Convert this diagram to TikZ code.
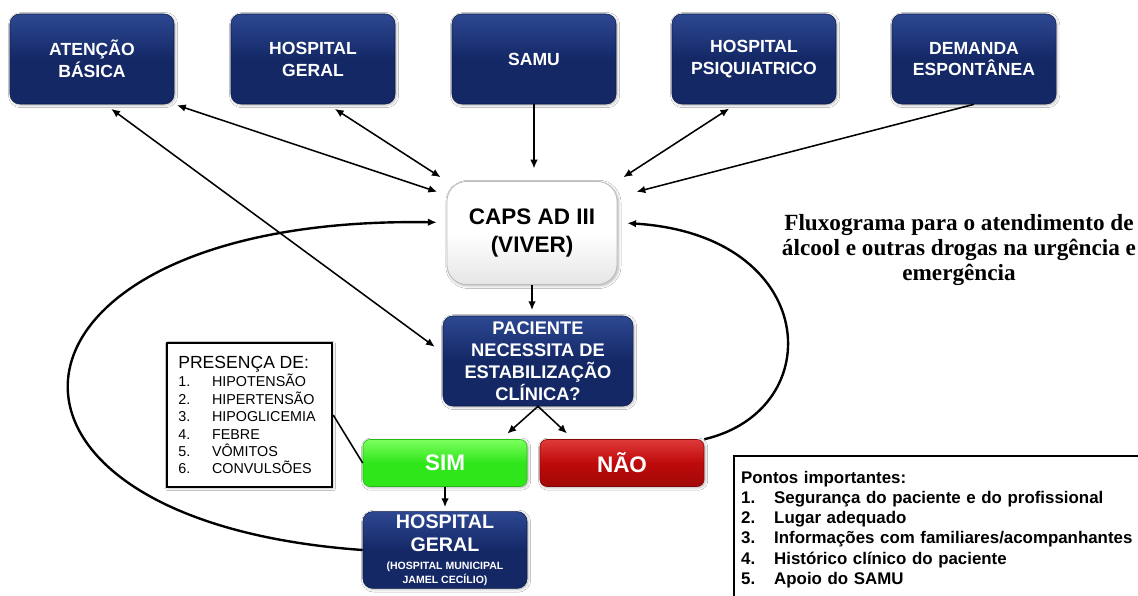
\documentclass[tikz,border=0pt]{standalone}
\usepackage{fontspec}
\setmainfont{Liberation Serif}
\setsansfont{Liberation Sans}
\usepackage{tikz}
\usetikzlibrary{arrows.meta,calc,shadows.blur}
\definecolor{navy}{HTML}{142866}
\definecolor{navytop}{HTML}{2D4892}
\definecolor{simgreen}{HTML}{2FE61A}
\definecolor{simtop}{HTML}{7CFF5E}
\definecolor{naored}{HTML}{BE0A0A}
\definecolor{naotop}{HTML}{E03A3A}
\definecolor{capsedge}{HTML}{BDBDBD}
\tikzset{
  >={Latex[length=2.2mm,width=1.9mm]},
  unit/.style={
    rounded corners=7pt,
    draw=navy!70!black,
    line width=0.4pt,
    top color=navytop, bottom color=navy, middle color=navy,
    blur shadow={shadow blur steps=4, shadow xshift=0.8pt, shadow yshift=-0.8pt, shadow opacity=30},
    text=white,
    align=center,
    font=\sffamily\bfseries\fontsize{12.5}{15.6}\selectfont,
    minimum width=4.1cm,
    minimum height=2.25cm,
    inner sep=2pt
  },
  hub/.style={
    rounded corners=14pt,
    draw=capsedge,
    line width=0.6pt,
    top color=white, bottom color=black!10, middle color=white,
    blur shadow={shadow blur steps=5, shadow xshift=1pt, shadow yshift=-1pt, shadow opacity=30},
    align=center,
    font=\sffamily\bfseries\fontsize{16}{20}\selectfont,
    minimum width=4.25cm,
    minimum height=2.575cm
  },
  answer/.style={
    rounded corners=5pt,
    text=white,
    font=\sffamily\bfseries\fontsize{16}{19}\selectfont,
    minimum width=4.1cm,
    minimum height=1.175cm,
    blur shadow={shadow blur steps=4, shadow xshift=0.8pt, shadow yshift=-0.8pt, shadow opacity=30}
  },
  yesbox/.style={answer, draw=simgreen!80!black, top color=simtop, bottom color=simgreen, middle color=simgreen},
  nobox/.style={answer, draw=naored!70!black, top color=naotop, bottom color=naored!85!black, middle color=naored},
  checklist/.style={
    draw=black,
    line width=1.8pt,
    fill=white,
    align=left,
    font=\sffamily\fontsize{10.2}{12.4}\selectfont,
    inner xsep=8pt,
    text width=3.56cm,
    minimum height=3.6cm,
    blur shadow={shadow blur steps=3, shadow xshift=0.8pt, shadow yshift=-0.8pt, shadow opacity=25}
  },
  pointsbox/.style={
    draw=black,
    line width=1.6pt,
    fill=white,
    align=left,
    anchor=north west,
    font=\sffamily\bfseries\fontsize{12}{14.4}\selectfont,
    inner xsep=5pt,
    inner ysep=10.5pt,
    text width=11cm,
    text depth=4cm
  },
  heading/.style={font=\rmfamily\bfseries\fontsize{16.5}{17.8}\selectfont, align=center},
  flowedge/.style={line width=1.1pt, ->},
  twoway/.style={line width=1.1pt, <->},
  loopedge/.style={line width=1.7pt, ->, shorten >=7pt}
}
\newcommand{\itemnum}[1]{\makebox[24pt][l]{#1}}
\newcommand{\pointnum}[1]{\makebox[23.5pt][l]{#1}}

\begin{document}
\begin{tikzpicture}[x=0.025cm,y=-0.025cm]
\useasboundingbox (0,0) rectangle (1138,595);
\fill[white] (0,0) rectangle (1138,595);

% entry points
\node[unit] (atencao) at (92,59) {ATENÇÃO\\BÁSICA};
\node[unit] (hgeral) at (313,59) {HOSPITAL\\GERAL};
\node[unit] (samu) at (534,59) {SAMU};
\node[unit] (psiq) at (754,59) {HOSPITAL\\PSIQUIATRICO};
\node[unit] (demanda) at (974,59) {DEMANDA\\ESPONTÂNEA};

% flow
\node[hub] (caps) at (532,233) {CAPS AD III\\(VIVER)};
\node[unit, minimum width=4.75cm, font=\sffamily\bfseries\fontsize{13}{15.6}\selectfont] (paciente) at (538,361)
  {PACIENTE\\NECESSITA DE\\ESTABILIZAÇÃO\\CLÍNICA?};
\node[yesbox] (sim) at (445,463) {SIM};
\node[nobox] (nao) at (622,463) {NÃO};
\node[unit, minimum height=1.9cm, font=\sffamily\bfseries\fontsize{14}{16.5}\selectfont] (hgbot) at (445,550)
  {HOSPITAL\\GERAL\\[-3.7pt]{\fontsize{7.5}{9}\selectfont(HOSPITAL MUNICIPAL}\\[-6.5pt]{\fontsize{7.5}{9}\selectfont JAMEL CECÍLIO)}};

% notes
\node[checklist] (presenca) at (249.5,415)
  {{\fontsize{12.5}{14}\selectfont PRESENÇA DE:}\\[0.8pt]
   \itemnum{1.}HIPOTENSÃO\\
   \itemnum{2.}HIPERTENSÃO\\
   \itemnum{3.}HIPOGLICEMIA\\
   \itemnum{4.}FEBRE\\
   \itemnum{5.}VÔMITOS\\
   \itemnum{6.}CONVULSÕES};
\node[pointsbox] (pontos) at (733,455)
  {Pontos importantes:\\
   \pointnum{1.}Segurança do paciente e do profissional\\
   \pointnum{2.}Lugar adequado\\
   \pointnum{3.}Informações com familiares/acompanhantes\\
   \pointnum{4.}Histórico clínico do paciente\\
   \pointnum{5.}Apoio do SAMU};
\node[heading] (titulo) at (959,250)
  {Fluxograma para o atendimento de\\álcool e outras drogas na urgência e\\emergência};

% connectors
\draw[twoway, shorten <=2pt, shorten >=7pt] (atencao.south east) -- (caps.156);
\draw[twoway, shorten <=5.5pt, shorten >=7pt] (atencao.-74) -- (paciente.175);
\draw[twoway, shorten <=6pt, shorten >=5pt] (hgeral.-72) -- (caps.north west);
\draw[twoway, shorten <=5.5pt, shorten >=5pt] (psiq.-112) -- (caps.north east);
\draw[flowedge, shorten >=14pt] (demanda.south) -- (caps.23);
\draw[flowedge, shorten >=9pt] (samu.south) -- (samu.south |- caps.north);
\draw[flowedge, shorten >=4pt] (caps.south) -- (caps.south |- paciente.north);
\foreach \a/\b/\s in {paciente.south/sim.23/6pt, paciente.south/nao.154/6pt, sim.south/hgbot.north/3pt}
  \draw[flowedge, shorten >=\s] (\a) -- (\b);
\draw[line width=1.1pt] (presenca.east) -- (sim.west);

\draw[loopedge] (hgbot.west) .. controls (-60,520) and (-20,215) .. (caps.173);
\draw[loopedge] (nao.north east) .. controls (830,410) and (820,235) .. (caps.7);
\end{tikzpicture}
\end{document}
